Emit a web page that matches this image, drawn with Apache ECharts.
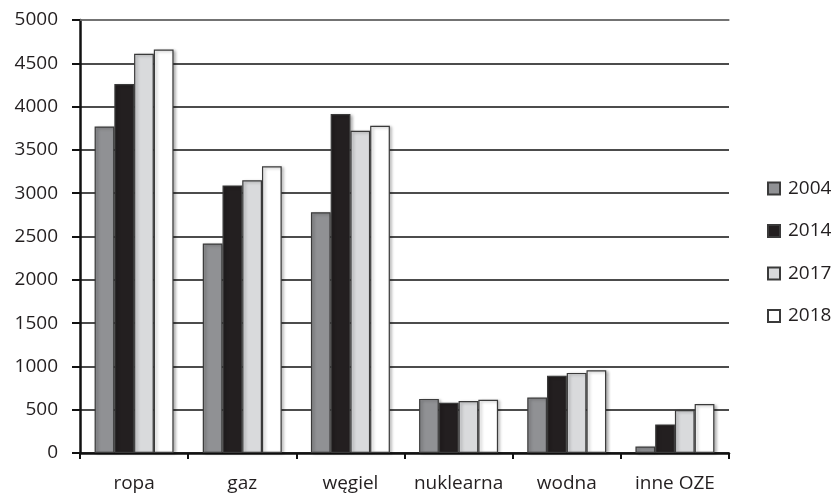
<!DOCTYPE html>
<html>
<head>
<meta charset="utf-8">
<script src="https://cdn.jsdelivr.net/npm/echarts@6/dist/echarts.min.js"></script>
<style>
  html, body { margin: 0; padding: 0; background: #ffffff; }
  #chart { width: 835px; height: 495px; }
</style>
</head>
<body>
<div id="chart"></div>
<script>
// Energy sources on the category axis
const categories = ['ropa', 'gaz', 'węgiel', 'nuklearna', 'wodna', 'inne OZE'];

// Values per year
const years = ['2004', '2014', '2017', '2018'];
const values2004 = [3770, 2420, 2780, 625, 640, 75];
const values2014 = [4260, 3090, 3915, 580, 893, 330];
const values2017 = [4610, 3150, 3720, 600, 925, 497];
const values2018 = [4660, 3310, 3778, 615, 955, 566];

// Value axis ticks
const yMin = 0;
const yMax = 5000;
const yStep = 500;

const seriesValues = [values2004, values2014, values2017, values2018];
const fills = ['#909194', '#231f20', '#d9dadc', '#ffffff'];
const FONT = '"Open Sans", sans-serif';

const chart = echarts.init(document.getElementById('chart'), null, { renderer: 'canvas' });

chart.setOption({
  animation: false,
  backgroundColor: '#ffffff',
  grid: { left: 80, right: 106, top: 20, bottom: 42, containLabel: false },
  legend: {
    orient: 'vertical',
    left: 767,
    top: 179,
    padding: 0,
    itemWidth: 12,
    itemHeight: 12,
    itemGap: 23.5,
    icon: 'rect',
    data: years,
    textStyle: { fontFamily: FONT, fontSize: 19, color: '#231f20', padding: [0, 0, 0, 3] }
  },
  xAxis: [
    {
      type: 'category',
      data: categories,
      axisLine: { lineStyle: { color: '#111', width: 2.5 } },
      axisTick: { show: true, length: 6, alignWithLabel: false, lineStyle: { color: '#111', width: 2 } },
      axisLabel: { interval: 0, fontFamily: FONT, fontSize: 19, color: '#231f20', margin: 21 },
      splitLine: { show: false }
    },
    {
      // top border of the plot area
      type: 'category',
      data: categories,
      position: 'top',
      axisLine: { lineStyle: { color: '#808080', width: 1.5 } },
      axisTick: { show: false },
      axisLabel: { show: false },
      splitLine: { show: false }
    }
  ],
  yAxis: {
    type: 'value',
    min: yMin,
    max: yMax,
    interval: yStep,
    axisLine: { show: true, lineStyle: { color: '#111', width: 2.5 } },
    axisTick: { show: true, length: 8, lineStyle: { color: '#111', width: 2 } },
    axisLabel: { fontFamily: FONT, fontSize: 19, color: '#231f20', margin: 22, formatter: v => String(v) },
    splitLine: { show: true, lineStyle: { color: '#111', width: 1.5 } }
  },
  series: years.map((y, i) => ({
    name: y,
    type: 'bar',
    data: seriesValues[i],
    barGap: '0%',
    barCategoryGap: '27%',
    itemStyle: {
      color: fills[i],
      borderColor: '#3a3a3a',
      borderWidth: 1.2,
      shadowColor: 'rgba(0,0,0,0.3)',
      shadowBlur: 3,
      shadowOffsetX: 2,
      shadowOffsetY: 1
    }
  }))
});
</script>
</body>
</html>
